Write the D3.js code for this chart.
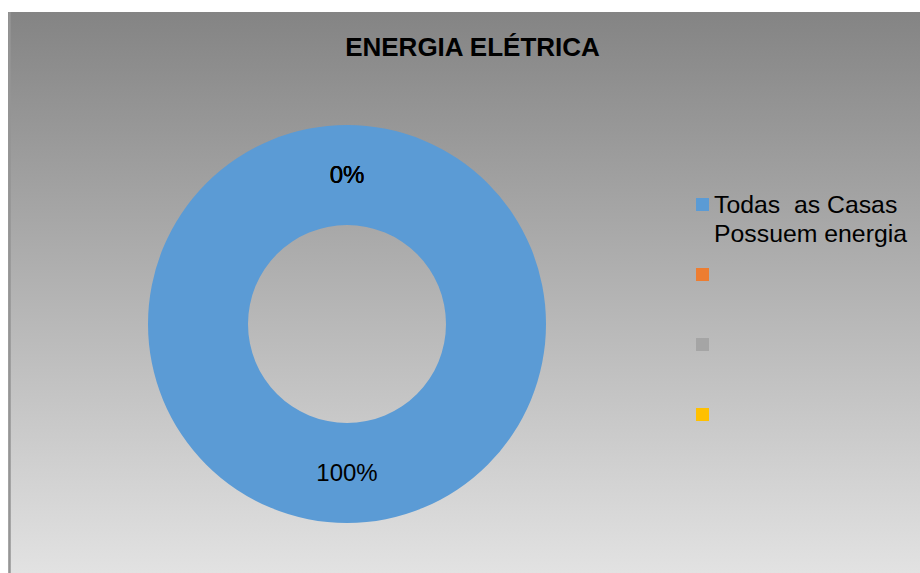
<!DOCTYPE html>
<html>
<head>
<meta charset="utf-8">
<script src="https://cdn.jsdelivr.net/npm/d3@7"></script>
<style>
html,body{margin:0;padding:0;background:#fff;}
svg{display:block;}
</style>
</head>
<body>
<svg id="chart" width="920" height="573"></svg>
<script>
const chartTitle = "ENERGIA ELÉTRICA";
const categories = ["Todas  as Casas Possuem energia", "", "", ""];
const legendLines = [["Todas  as Casas", "Possuem energia"], [], [], []];
const values = [1, 0, 0, 0];
const colors = ["#5B9BD5", "#ED7D31", "#A5A5A5", "#FFC000"];

(function(){
const svg = d3.select("#chart");
const W = 920, H = 573;

const defs = svg.append("defs");
const grad = defs.append("linearGradient").attr("id","bg").attr("x1",0).attr("y1",0).attr("x2",0).attr("y2",1);
grad.append("stop").attr("offset","0%").attr("stop-color","#848484");
grad.append("stop").attr("offset","100%").attr("stop-color","#e2e2e2");

const x0 = 8, y0 = 12;
svg.append("rect").attr("x",x0).attr("y",y0).attr("width",W-x0).attr("height",H-y0).attr("fill","url(#bg)");
svg.append("line").attr("x1",x0+1.5).attr("x2",x0+1.5).attr("y1",y0).attr("y2",H).attr("stroke","#959595").attr("stroke-width",2.5);

svg.append("text").attr("x",472.5).attr("y",56).attr("text-anchor","middle")
  .attr("font-family","Liberation Sans, Arial, sans-serif").attr("font-weight","bold").attr("font-size",26)
  .attr("fill","#000").text(chartTitle);

const cx = 347, cy = 324, rOut = 199, rIn = 99;
const total = d3.sum(values);
const pie = d3.pie().sort(null).value(d => d.v);
const arcs = pie(values.map((v,i)=>({v, c: categories[i], i})));
const arc = d3.arc().innerRadius(rIn).outerRadius(rOut);
const labelArc = d3.arc().innerRadius((rIn+rOut)/2).outerRadius((rIn+rOut)/2);
const g = svg.append("g").attr("transform",`translate(${cx},${cy})`);
g.selectAll("path").data(arcs).join("path").attr("d",arc).attr("fill",d=>colors[d.data.i]);
const fmt = d3.format(".0%");
g.selectAll("text").data(arcs).join("text")
  .attr("transform",d=>`translate(${labelArc.centroid(d)})`)
  .attr("text-anchor","middle").attr("dy","0.35em")
  .attr("font-family","Liberation Sans, Arial, sans-serif").attr("font-size",24)
  .attr("fill","#000").text(d=>fmt(d.data.v/total));

const lx = 696, ly0 = 198, step = 70;
const lg = svg.append("g");
categories.forEach((c,i)=>{
  const y = ly0 + i*step;
  lg.append("rect").attr("x",lx).attr("y",y).attr("width",13).attr("height",13).attr("fill",colors[i]);
  const t = lg.append("text")
    .attr("font-family","Liberation Sans, Arial, sans-serif").attr("font-size",24.8)
    .attr("fill","#000").style("white-space","pre");
  legendLines[i].forEach((ln,k)=>{
    t.append("tspan").attr("x",lx+18).attr("y",y+15+k*29).text(ln);
  });
});
})();
</script>
</body>
</html>
